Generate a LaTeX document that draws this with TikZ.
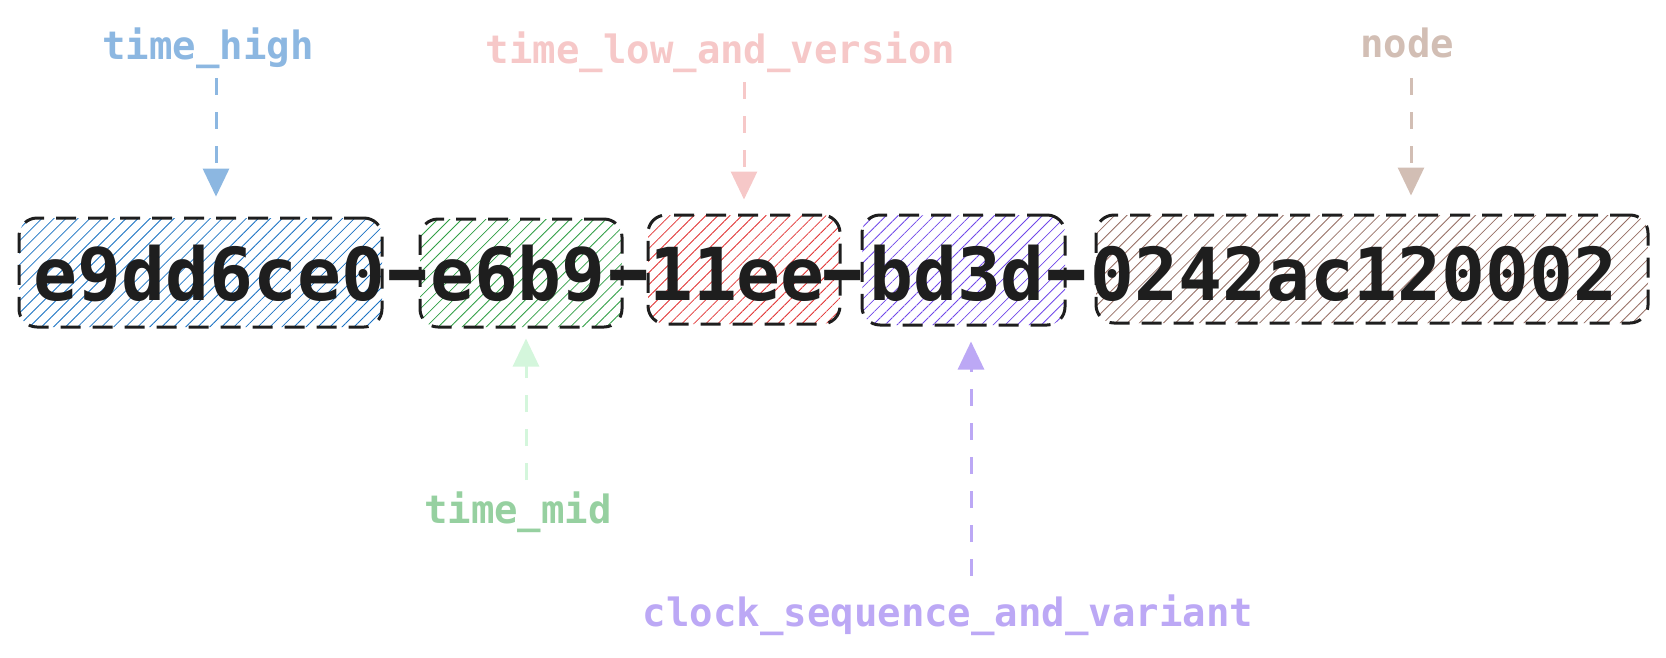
\documentclass[tikz,border=0pt]{standalone}
\usepackage{fontspec}
\setmonofont{DejaVu Sans Mono}
\usetikzlibrary{arrows.meta,patterns.meta}
\definecolor{ink}{RGB}{30,30,30}
\definecolor{hblue}{RGB}{25,113,194}
\definecolor{hgreen}{RGB}{47,158,68}
\definecolor{hred}{RGB}{224,49,49}
\definecolor{hviolet}{RGB}{112,72,232}
\definecolor{hbrown}{RGB}{150,110,100}
\definecolor{lblue}{RGB}{140,183,225}
\definecolor{lpink}{RGB}{246,200,200}
\definecolor{ltan}{RGB}{210,190,180}
\definecolor{lgreen}{RGB}{150,208,160}
\definecolor{lmint}{RGB}{212,246,220}
\definecolor{lviolet}{RGB}{188,168,245}
\newcommand{\longhyph}{\makebox[34pt]{\makebox[0pt]{\raisebox{4pt}{\scalebox{1.6}[1]{-}}}}}
\tikzset{
  seg/.style={draw=ink, line width=3pt, dash pattern=on 20pt off 12pt, rounded corners=18pt, inner sep=0pt,
    pattern={Lines[angle=45,distance=8.5pt,line width=0.8pt]}, pattern color=#1},
  uuid/.style={font=\ttfamily\bfseries\fontsize{73}{80}\selectfont, text=ink, inner sep=0pt, anchor=base},
  lbl/.style={font=\ttfamily\bfseries\fontsize{39}{44}\selectfont, inner sep=0pt, anchor=base},
  arr/.style={line width=3pt, dash pattern=on 17pt off 17pt, -{Triangle[width=26pt,length=28pt]}},
}
\begin{document}
\begin{tikzpicture}[x=1pt,y=-1pt]
\path[use as bounding box] (0,0) rectangle (1666,657);
% boxes
\node[seg=hblue, minimum width=363pt, minimum height=109pt] (b1) at (200.5,272.5) {};
\node[seg=hgreen, minimum width=202pt, minimum height=108pt] (b2) at (521,273) {};
\node[seg=hred, minimum width=192pt, minimum height=109pt] (b3) at (744,269.5) {};
\node[seg=hviolet, minimum width=203pt, minimum height=110pt] (b4) at (963.5,270) {};
\node[seg=hbrown, minimum width=552pt, minimum height=108pt] (b5) at (1372,269) {};
% uuid text
\node[uuid] (t1) at (209.6,300) {e9dd6ce0};
\node[uuid] (d1) at (408,300) {\longhyph};
\node[uuid] (t2) at (518,300) {e6b9};
\node[uuid] (d2) at (629,300) {\longhyph};
\node[uuid] (t3) at (737,300) {11ee};
\node[uuid] (d3) at (843,300) {\longhyph};
\node[uuid] (t4) at (957,300) {bd3d};
\node[uuid] (d4) at (1067,300) {\longhyph};
\node[uuid] (t5) at (1354,300) {0242ac120002};
% labels
\node[lbl, text=lblue] (lh) at (208,59) {time\_high};
\node[lbl, text=lpink] (ll) at (720.5,63) {time\_low\_and\_version};
\node[lbl, text=ltan] (ln) at (1407,57) {node};
\node[lbl, text=lgreen] (lm) at (518,523) {time\_mid};
\node[lbl, text=lviolet] (lc) at (948,626) {clock\_sequence\_and\_variant};
% arrows
\coordinate (th) at (216,78);
\coordinate (tl) at (744,82);
\coordinate (tn) at (1411,78);
\coordinate (tm) at (526,480);
\coordinate (tc) at (971,576);
\draw[arr, lblue, shorten >=21pt] (th) -- (th |- b1.north);
\draw[arr, lpink, shorten >=14pt] (tl) -- (tl |- b3.north);
\draw[arr, ltan, shorten >=18pt] (tn) -- (tn |- b5.north);
\draw[arr, lmint, shorten >=10pt] (tm) -- (tm |- b2.south);
\draw[arr, lviolet, shorten >=15pt] (tc) -- (tc |- b4.south);
\end{tikzpicture}
\end{document}
